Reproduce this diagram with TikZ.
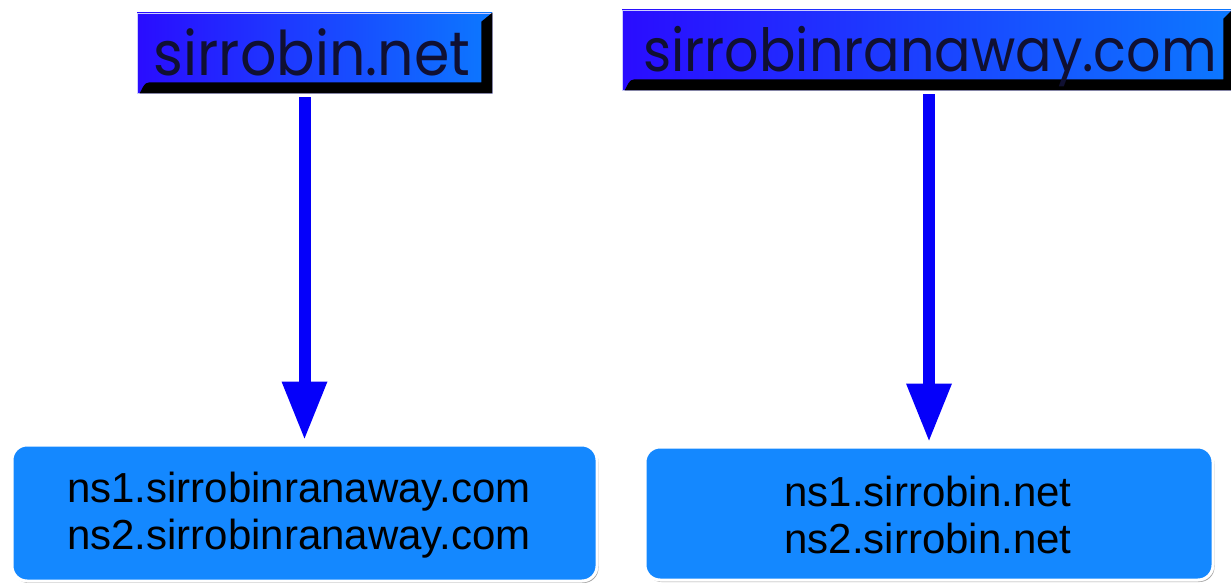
\documentclass[tikz,border=0pt]{standalone}
\usepackage{fontspec}
\setmainfont{Liberation Sans}
\newfontfamily\topfont{Poppins}
\usetikzlibrary{arrows.meta,shadows}
\definecolor{gradL}{RGB}{42,12,255}
\definecolor{gradR}{RGB}{12,120,255}
\definecolor{boxblue}{RGB}{20,136,255}
\definecolor{arrowblue}{RGB}{5,0,250}
\definecolor{toptext}{RGB}{16,16,50}
\tikzset{
  topbox/.style={rectangle, inner sep=0pt, left color=gradL, right color=gradR,
    draw=blue!20!white, line width=0.6pt},
  toplabel/.style={text=toptext, inner sep=0pt, anchor=base},
  nsbox/.style={rectangle, rounded corners=15pt, fill=boxblue, draw=white, line width=3pt,
    align=center, font=\fontsize{42}{47}\selectfont, text=black,
    general shadow={fill=black!35, shadow xshift=1.5pt, shadow yshift=-2pt}},
  bevel/.style={fill=black},
  bigarrow/.style={draw=arrowblue, line width=12pt,
    -{Triangle[width=46pt,length=57pt,line width=0pt]}, shorten <=4pt, shorten >=5pt}
}
\begin{document}
\begin{tikzpicture}[x=1pt,y=-1pt]
\useasboundingbox (0,0) rectangle (1231,583);
% top boxes
\node[topbox, minimum width=355pt, minimum height=80pt] (t1) at (314.5,53) {};
\fill[bevel] ([xshift=3pt]t1.south west) to[out=60,in=180] ([xshift=13pt,yshift=11pt]t1.south west)
  -- ([xshift=-11pt,yshift=11pt]t1.south east) -- ([xshift=-11pt,yshift=-9pt]t1.north east)
  -- (t1.north east) -- (t1.south east) -- cycle;
\node[toplabel] (l1) at (312,76) {\scalebox{1}[1.08]{\topfont\fontsize{57}{57}\selectfont sirrobin.net}};

\node[topbox, minimum width=610pt, minimum height=80pt] (t2) at (927,50) {};
\fill[bevel] ([xshift=3pt]t2.south west) to[out=60,in=180] ([xshift=13pt,yshift=11pt]t2.south west)
  -- ([xshift=-9pt,yshift=11pt]t2.south east) -- ([xshift=-9pt,yshift=-9pt]t2.north east)
  -- (t2.north east) -- (t2.south east) -- cycle;
\node[toplabel] (l2) at (930,72) {\scalebox{1}[1.1]{\topfont\fontsize{54}{54}\selectfont sirrobinranaway.com}};

% bottom boxes
\node[nsbox, minimum width=585pt, minimum height=136pt] (b1) at (304.5,513) {};
\node[align=center, font=\fontsize{42}{47}\selectfont, inner sep=0pt] (n1) at (299,515) {ns1.sirrobinranaway.com\\ns2.sirrobinranaway.com};
\node[nsbox, minimum width=568pt, minimum height=133pt] (b2) at (929,513.5) {};
\node[align=center, font=\fontsize{42}{47}\selectfont, inner sep=0pt] (n2) at (928,515) {ns1.sirrobin.net\\ns2.sirrobin.net};

% arrows
\draw[bigarrow] (t1.south -| b1.north) -- (b1.north);
\draw[bigarrow] (t2.south -| b2.north) -- (b2.north);
\end{tikzpicture}
\end{document}
